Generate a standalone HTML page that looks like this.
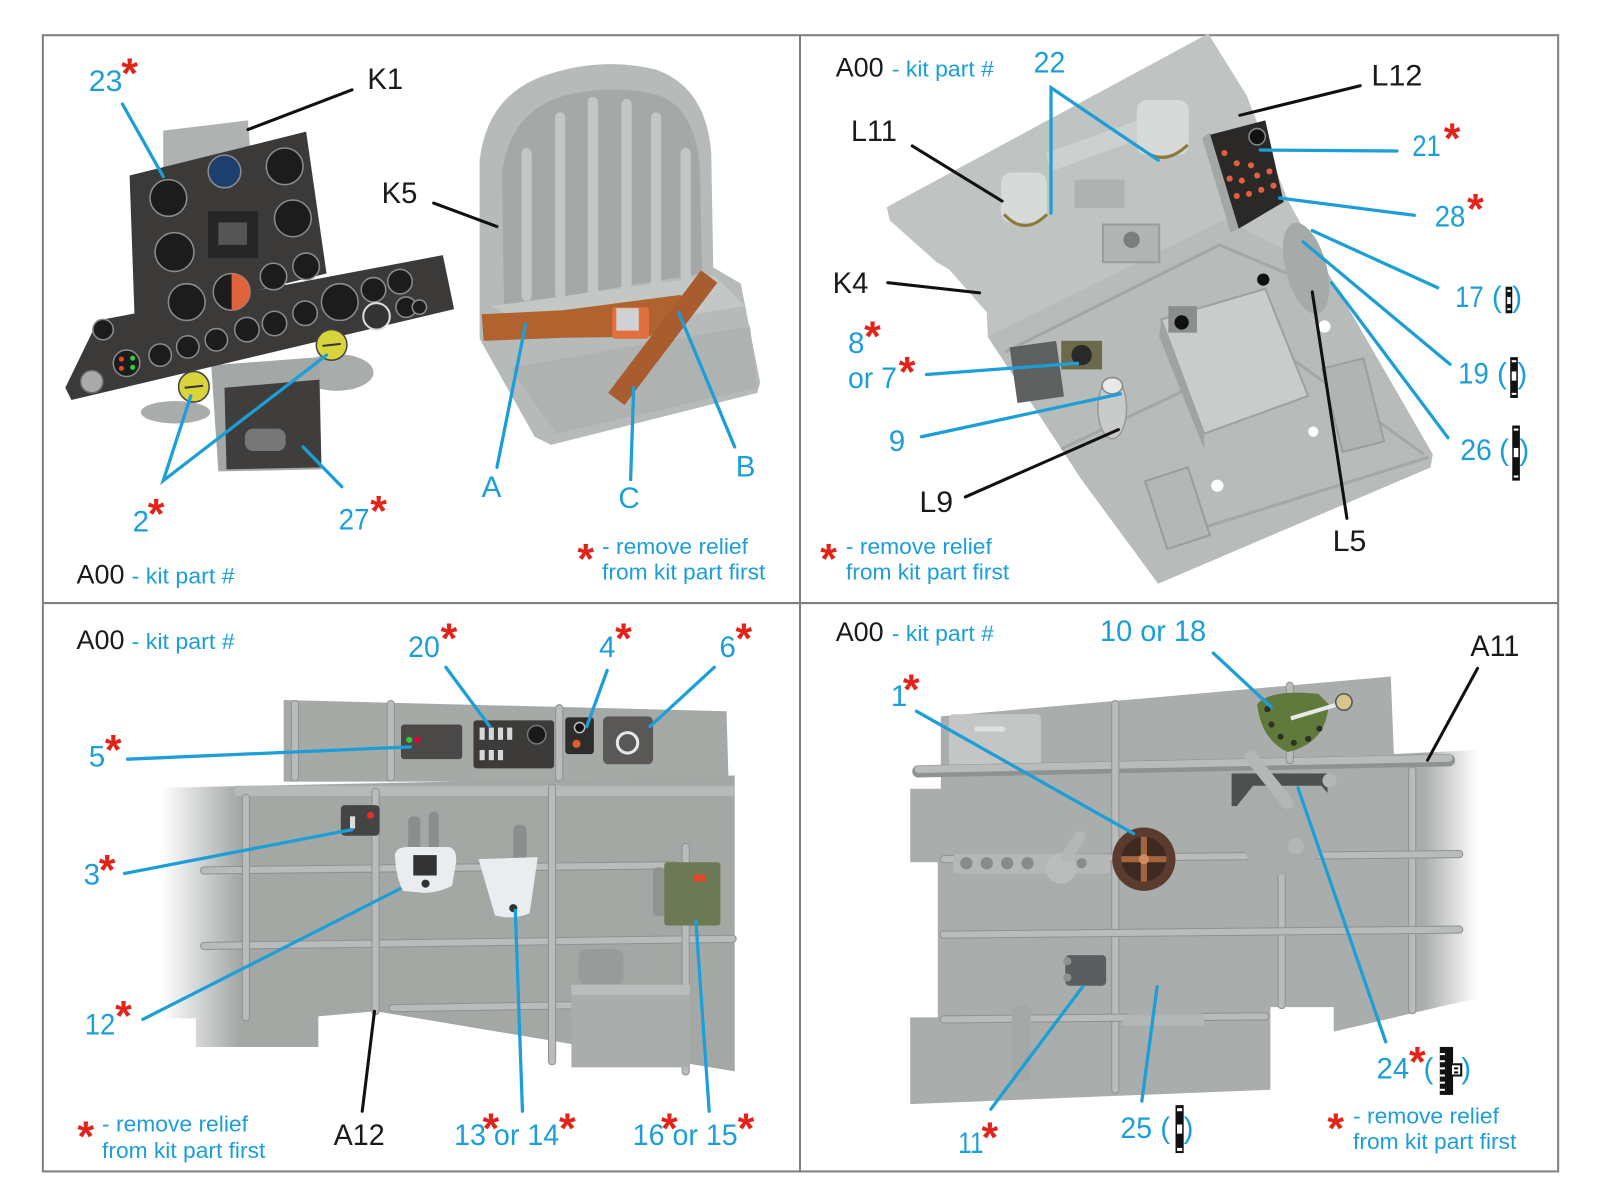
<!DOCTYPE html>
<html><head><meta charset="utf-8"><style>
html,body{margin:0;padding:0;background:#fff;}
svg{display:block;}
text{font-family:"Liberation Sans",Arial,sans-serif;}
.b{fill:#1c9ed8;font-size:29px}
.k{fill:#1a1a1a;font-size:29px}
.s{fill:#1c9ed8;font-size:22px}
.k2{fill:#1a1a1a;font-size:26px}
.a{fill:#e2231a;font-size:42px;font-weight:bold;text-anchor:middle}
.bl{stroke:#1c9ed8;stroke-width:3.2;stroke-linecap:round;fill:none}
.kl{stroke:#111;stroke-width:3;stroke-linecap:round;fill:none}
.g{fill:#1c1c1c;stroke:#8c8c8c;stroke-width:1.5}
.rib{stroke:#b9bcba;stroke-width:6;stroke-linecap:round}
.ribd{stroke:#8e9290;stroke-width:8;stroke-linecap:round}
</style></head><body>
<svg xmlns="http://www.w3.org/2000/svg" width="1600" height="1200" viewBox="0 0 1568 1176">
<defs>
<linearGradient id="f3" gradientUnits="userSpaceOnUse" x1="158" y1="0" x2="235" y2="0">
<stop offset="0" stop-color="#ffffff"/><stop offset="1" stop-color="#a3a8a5"/></linearGradient>
<linearGradient id="f4" gradientUnits="userSpaceOnUse" x1="1395" y1="0" x2="1448" y2="0">
<stop offset="0" stop-color="#a9adab"/><stop offset="1" stop-color="#ffffff"/></linearGradient>
</defs>
<rect width="1568" height="1176" fill="#fff"/>
<!-- frame -->
<rect x="42" y="34.5" width="1485" height="1113.5" fill="none" stroke="#808080" stroke-width="2"/>
<line x1="784" y1="34.5" x2="784" y2="1148" stroke="#808080" stroke-width="2"/>
<line x1="42" y1="591" x2="1527" y2="591" stroke="#808080" stroke-width="2"/>

<!-- ===== Q1 instrument panel ===== -->
<polygon points="160,128 243,118 248,185 160,195" fill="#aeb2b0"/>
<ellipse cx="172" cy="404" rx="34" ry="11" fill="#a8acaa"/>
<ellipse cx="330" cy="365" rx="36" ry="18" fill="#a8acaa"/>
<polygon points="207,358 313,350 315,460 214,462" fill="#a3a7a5"/>
<polygon points="220,380 313,372 315,458 222,460" fill="#3f3e3d"/>
<polygon points="127,172 300,129 320,268 132,314" fill="#3c3a39"/>
<polygon points="96,314 434,250 445,303 70,392 64,380" fill="#3c3a39"/>
<g>
<circle class="g" cx="165" cy="194" r="18"/>
<circle cx="220" cy="168" r="16" fill="#1c3f6e" stroke="#8c8c8c" stroke-width="1.5"/>
<circle class="g" cx="279" cy="163" r="18"/>
<circle class="g" cx="287" cy="214" r="18"/>
<circle class="g" cx="171" cy="247" r="19"/>
<rect x="204" y="207" width="49" height="46" fill="#262626"/>
<rect x="214" y="218" width="28" height="22" fill="#555"/>
<circle class="g" cx="227" cy="286" r="18"/>
<path d="M227,268 A18,18 0 0 1 227,304 Z" fill="#e0633c"/>
<circle class="g" cx="268" cy="271" r="13"/>
<circle class="g" cx="300" cy="261" r="13"/>
<circle class="g" cx="183" cy="296" r="18"/>
<circle class="g" cx="333" cy="296" r="18"/>
<circle class="g" cx="366" cy="284" r="12"/>
<circle class="g" cx="392" cy="276" r="12"/>
<circle class="g" cx="242" cy="323" r="12"/>
<circle class="g" cx="269" cy="317" r="12"/>
<circle class="g" cx="299" cy="307" r="12"/>
<circle cx="369" cy="310" r="13" fill="#333" stroke="#ddd" stroke-width="2"/>
<circle class="g" cx="398" cy="301" r="10"/>
<circle class="g" cx="212" cy="333" r="11"/>
<circle class="g" cx="184" cy="340" r="11"/>
<circle class="g" cx="157" cy="348" r="11"/>
<circle class="g" cx="101" cy="323" r="10"/>
<circle class="g" cx="124" cy="356" r="13"/>
<circle cx="119" cy="352" r="2.5" fill="#e04a2a"/><circle cx="130" cy="351" r="2.5" fill="#3c3"/><circle cx="119" cy="361" r="2.5" fill="#e04a2a"/><circle cx="130" cy="360" r="2.5" fill="#3c3"/>
<circle cx="90" cy="374" r="11" fill="#aaa" stroke="#666" stroke-width="1.5"/>
<circle class="g" cx="411" cy="301" r="7"/>
<rect x="240" y="420" width="40" height="22" rx="8" fill="#777"/>
</g>
<circle cx="190" cy="379" r="15" fill="#d9d43c" stroke="#444" stroke-width="1.5"/>
<line x1="181" y1="380" x2="199" y2="378" stroke="#333" stroke-width="2"/>
<circle cx="325" cy="338" r="15" fill="#d9d43c" stroke="#444" stroke-width="1.5"/>
<line x1="316" y1="339" x2="334" y2="337" stroke="#333" stroke-width="2"/>

<!-- ===== Q1 seat ===== -->
<path d="M470,157 Q478,90 540,72 Q592,56 642,68 Q692,85 697,150 L699,262 L726,278 L745,375 L742,385 L540,436 L524,428 L470,332 Z" fill="#b6bab8"/>
<path d="M494,300 L492,170 Q500,105 560,92 Q610,82 650,95 Q684,112 686,170 L688,268 Z" fill="#a4a8a6"/>
<g stroke="#c2c6c4" stroke-width="10" stroke-linecap="round">
<line x1="516" y1="150" x2="516" y2="290"/>
<line x1="549" y1="115" x2="549" y2="288"/>
<line x1="581" y1="100" x2="581" y2="286"/>
<line x1="614" y1="102" x2="614" y2="284"/>
<line x1="643" y1="115" x2="643" y2="282"/>
<line x1="672" y1="150" x2="672" y2="278"/>
</g>
<polygon points="482,300 700,270 730,300 540,330" fill="#c3c7c5"/>
<polygon points="500,360 735,320 742,380 545,425" fill="#aeb2b0"/>
<polygon points="472,308 552,304 667,289 674,306 636,330 553,331 474,334" fill="#b0622f"/>
<rect x="600" y="301" width="36" height="31" rx="3" fill="#e2703e"/>
<rect x="604" y="302" width="22" height="22" fill="#cfd2d3"/>
<polygon points="703,277 687,265 596,385 612,397" fill="#a95d2e"/>

<!-- Q1 lines -->
<line class="bl" x1="120" y1="102" x2="160" y2="173"/>
<line class="kl" x1="345" y1="88" x2="243" y2="127"/>
<line class="kl" x1="425" y1="199" x2="487" y2="222"/>
<polyline class="bl" points="187,388 160,471 320,348"/>
<line class="bl" x1="335" y1="477" x2="297" y2="438"/>
<line class="bl" x1="487" y1="458" x2="515" y2="318"/>
<line class="bl" x1="618" y1="470" x2="621" y2="380"/>
<line class="bl" x1="720" y1="438" x2="665" y2="306"/>

<!-- Q1 text -->
<text class="b" x="87" y="89" textLength="33" lengthAdjust="spacingAndGlyphs">23</text>
<text class="a" x="127" y="86">*</text>
<text class="k" x="360" y="87" textLength="35" lengthAdjust="spacingAndGlyphs">K1</text>
<text class="k" x="374" y="199" textLength="35" lengthAdjust="spacingAndGlyphs">K5</text>
<text class="b" x="130" y="521">2</text>
<text class="a" x="153" y="518">*</text>
<text class="b" x="332" y="519" textLength="30" lengthAdjust="spacingAndGlyphs">27</text>
<text class="a" x="371" y="515">*</text>
<text class="b" x="472" y="487">A</text>
<text class="b" x="606" y="498">C</text>
<text class="b" x="721" y="467">B</text>
<text class="a" x="574" y="562">*</text>
<text class="s" x="590" y="543" textLength="143" lengthAdjust="spacingAndGlyphs">- remove relief</text>
<text class="s" x="590" y="568" textLength="160" lengthAdjust="spacingAndGlyphs">from kit part first</text>
<text class="k2" x="75" y="572" textLength="47" lengthAdjust="spacingAndGlyphs">A00</text>
<text class="s" x="129" y="572" textLength="101" lengthAdjust="spacingAndGlyphs">- kit part #</text>

<!-- ===== Q2 plate ===== -->
<polygon points="869,203 1184,33 1222,94 1228,110 1262,196 1300,265 1404,445 1402,458 1135,572 1060,470 968,330 967,306 930,264 918,257 872,216" fill="#bfc3c1"/>
<polygon points="968,330 1200,215 1300,265 1404,445 1402,458 1135,572 1060,470" fill="#b7bbb9"/>
<g stroke="#a3a7a5" stroke-width="3" fill="none">
<polyline points="985,345 1195,240 1290,280"/>
<polyline points="1040,440 1250,340 1395,445"/>
<line x1="1170" y1="520" x2="1400" y2="448"/>
</g>
<rect x="993" y="337" width="46" height="55" fill="#5e615f" transform="rotate(-8 1016 364)"/>
<rect x="1040" y="334" width="40" height="28" fill="#6b6a4a"/>
<circle cx="1060" cy="348" r="10" fill="#2a2a2a"/>
<rect x="1081" y="220" width="55" height="37" fill="#b0b4b2" stroke="#999d9b" stroke-width="2"/>
<circle cx="1109" cy="235" r="8" fill="#7a7e7c"/>
<polygon points="1138,313 1240,283 1282,388 1180,425" fill="#c9cccb" stroke="#9da19f" stroke-width="2"/>
<polygon points="1138,313 1180,425 1180,440 1136,330" fill="#9fa3a1"/>
<rect x="1145" y="300" width="28" height="26" fill="#8a8e8c"/>
<circle cx="1158" cy="316" r="7" fill="#111"/>
<circle cx="1238" cy="274" r="6" fill="#111"/>
<circle cx="1287" cy="423" r="5" fill="#fff"/>
<circle cx="1193" cy="476" r="6" fill="#fff"/>
<circle cx="1298" cy="320" r="6" fill="#fff"/>
<ellipse cx="1280" cy="263" rx="20" ry="46" fill="#a6aaa8" transform="rotate(-15 1280 263)"/>
<rect x="1305" y="355" width="42" height="84" fill="#b0b4b2" stroke="#9a9e9c" stroke-width="2" transform="rotate(-14 1326 397)"/>
<rect x="1132" y="463" width="44" height="70" fill="#b3b7b5" stroke="#999d9b" stroke-width="2" transform="rotate(-18 1154 498)"/>
<ellipse cx="1090" cy="400" rx="14" ry="30" fill="#c8cbca" stroke="#999" stroke-width="1.5"/>
<ellipse cx="1090" cy="378" rx="10" ry="8" fill="#e8e8e8" stroke="#888" stroke-width="1.5"/>
<!-- belt mounts -->
<polygon points="1025,150 1115,118 1120,135 1030,168" fill="#ccd0ce"/>
<rect x="1053" y="176" width="49" height="28" fill="#aeb2b0"/>
<rect x="981" y="169" width="45" height="49" rx="10" fill="#d7dad8"/>
<path d="M984,210 Q1004,232 1026,210" stroke="#8a7a3a" stroke-width="3" fill="none"/>
<rect x="1114" y="98" width="51" height="54" rx="10" fill="#d7dad8"/>
<path d="M1118,145 Q1140,165 1164,142" stroke="#8a7a3a" stroke-width="3" fill="none"/>
<!-- L12 box -->
<polygon points="1178,135 1186,130 1214,224 1206,228" fill="#a3a7a5"/>
<polygon points="1186,132 1240,118 1258,198 1214,224" fill="#2b2928"/>
<g fill="#e06040">
<circle cx="1200" cy="150" r="3"/><circle cx="1212" cy="160" r="3"/><circle cx="1226" cy="162" r="3"/>
<circle cx="1205" cy="175" r="3"/><circle cx="1217" cy="177" r="3"/><circle cx="1232" cy="172" r="3"/><circle cx="1244" cy="168" r="3"/>
<circle cx="1212" cy="192" r="3"/><circle cx="1224" cy="190" r="3"/><circle cx="1236" cy="186" r="3"/><circle cx="1248" cy="182" r="3"/>
</g>
<circle cx="1232" cy="134" r="8" fill="#111" stroke="#888" stroke-width="1.5"/>

<!-- Q2 lines -->
<polyline class="bl" points="1030,209 1030,86 1135,157"/>
<line class="kl" x1="1333" y1="84" x2="1215" y2="113"/>
<line class="kl" x1="894" y1="143" x2="982" y2="197"/>
<line class="bl" x1="1369" y1="148" x2="1235" y2="147"/>
<line class="bl" x1="1386" y1="211" x2="1254" y2="194"/>
<line class="kl" x1="870" y1="277" x2="960" y2="287"/>
<line class="bl" x1="1409" y1="282" x2="1286" y2="226"/>
<line class="bl" x1="1421" y1="357" x2="1277" y2="237"/>
<line class="bl" x1="1419" y1="429" x2="1305" y2="277"/>
<line class="kl" x1="1320" y1="508" x2="1286" y2="286"/>
<line class="bl" x1="908" y1="367" x2="1056" y2="356"/>
<line class="bl" x1="903" y1="428" x2="1098" y2="386"/>
<line class="kl" x1="946" y1="487" x2="1096" y2="421"/>

<!-- Q2 text -->
<text class="k2" x="819" y="75" textLength="47" lengthAdjust="spacingAndGlyphs">A00</text>
<text class="s" x="874" y="75" textLength="100" lengthAdjust="spacingAndGlyphs">- kit part #</text>
<text class="b" x="1013" y="71" textLength="31" lengthAdjust="spacingAndGlyphs">22</text>
<text class="k" x="1344" y="84" textLength="50" lengthAdjust="spacingAndGlyphs">L12</text>
<text class="k" x="834" y="138" textLength="45" lengthAdjust="spacingAndGlyphs">L11</text>
<text class="b" x="1384" y="153" textLength="28" lengthAdjust="spacingAndGlyphs">21</text>
<text class="a" x="1423" y="150">*</text>
<text class="b" x="1406" y="222" textLength="30" lengthAdjust="spacingAndGlyphs">28</text>
<text class="a" x="1446" y="219">*</text>
<text class="k" x="816" y="287" textLength="35" lengthAdjust="spacingAndGlyphs">K4</text>
<text class="b" x="1426" y="301" textLength="28" lengthAdjust="spacingAndGlyphs">17</text>
<text class="b" x="1462" y="301">(</text>
<rect x="1475.5" y="281" width="6.5" height="26" fill="#111"/>
<rect x="1477" y="284" width="3.5" height="2" fill="#fff"/><rect x="1477" y="291" width="3.5" height="7" fill="#fff"/><rect x="1477" y="302" width="3.5" height="2" fill="#fff"/>
<text class="b" x="1482" y="301">)</text>
<text class="b" x="831" y="346">8</text>
<text class="a" x="855" y="344">*</text>
<text class="b" x="831" y="380" textLength="48" lengthAdjust="spacingAndGlyphs">or 7</text>
<text class="a" x="889" y="379">*</text>
<text class="b" x="1429" y="376" textLength="30" lengthAdjust="spacingAndGlyphs">19</text>
<text class="b" x="1467" y="376">(</text>
<rect x="1480" y="350" width="7.5" height="40" fill="#111"/>
<rect x="1481.5" y="353" width="4.5" height="2" fill="#fff"/><rect x="1481.5" y="364" width="4.5" height="9" fill="#fff"/><rect x="1481.5" y="385" width="4.5" height="2" fill="#fff"/>
<text class="b" x="1487" y="376">)</text>
<text class="b" x="871" y="442">9</text>
<text class="b" x="1431" y="451" textLength="31" lengthAdjust="spacingAndGlyphs">26</text>
<text class="b" x="1469" y="451">(</text>
<rect x="1482" y="417" width="7.5" height="54" fill="#111"/>
<rect x="1483.5" y="420" width="4.5" height="2" fill="#fff"/><rect x="1483.5" y="439" width="4.5" height="9" fill="#fff"/><rect x="1483.5" y="466" width="4.5" height="2" fill="#fff"/>
<text class="b" x="1489" y="451">)</text>
<text class="k" x="901" y="502" textLength="33" lengthAdjust="spacingAndGlyphs">L9</text>
<text class="k" x="1306" y="540" textLength="33" lengthAdjust="spacingAndGlyphs">L5</text>
<text class="a" x="812" y="562">*</text>
<text class="s" x="829" y="543" textLength="143" lengthAdjust="spacingAndGlyphs">- remove relief</text>
<text class="s" x="829" y="568" textLength="160" lengthAdjust="spacingAndGlyphs">from kit part first</text>

<!-- ===== Q3 panel A12 ===== -->
<polygon points="278,686 712,697 714,766 278,766" fill="#a5aaa7"/>
<polygon points="160,772 720,760 720,1050 368,991 312,996 312,1026 192,1026 192,998 160,998" fill="url(#f3)"/>
<rect x="230" y="770" width="490" height="10" fill="#b6bab8"/>
<g>
<line class="ribd" x1="289" y1="690" x2="289" y2="762"/>
<line class="rib" x1="289" y1="690" x2="289" y2="762"/>
<line class="ribd" x1="383" y1="690" x2="383" y2="762"/>
<line class="rib" x1="383" y1="690" x2="383" y2="762"/>
<line class="ribd" x1="548" y1="694" x2="548" y2="762"/>
<line class="rib" x1="548" y1="694" x2="548" y2="762"/>
<line class="ribd" x1="200" y1="853" x2="662" y2="848"/>
<line class="rib" x1="200" y1="853" x2="662" y2="848"/>
<line class="ribd" x1="200" y1="927" x2="718" y2="920"/>
<line class="rib" x1="200" y1="927" x2="718" y2="920"/>
<line class="ribd" x1="385" y1="988" x2="570" y2="985"/>
<line class="rib" x1="385" y1="988" x2="570" y2="985"/>
<line class="ribd" x1="241" y1="782" x2="241" y2="997"/>
<line class="rib" x1="241" y1="782" x2="241" y2="997"/>
<line class="ribd" x1="368" y1="776" x2="368" y2="991"/>
<line class="rib" x1="368" y1="776" x2="368" y2="991"/>
<line class="ribd" x1="541" y1="772" x2="541" y2="1040"/>
<line class="rib" x1="541" y1="772" x2="541" y2="1040"/>
<line class="ribd" x1="672" y1="830" x2="672" y2="1050"/>
<line class="rib" x1="672" y1="830" x2="672" y2="1050"/>
</g>
<rect x="393" y="710" width="60" height="34" rx="3" fill="#4a4948"/>
<circle cx="401" cy="725" r="3" fill="#3c3"/><circle cx="409" cy="725" r="3" fill="#e03"/>
<rect x="464" y="706" width="79" height="47" rx="3" fill="#3c3b3a"/>
<g fill="#d8d8d8"><rect x="470" y="713" width="5" height="12"/><rect x="479" y="713" width="5" height="12"/><rect x="488" y="713" width="5" height="12"/><rect x="497" y="713" width="5" height="12"/><rect x="470" y="735" width="5" height="10"/><rect x="479" y="735" width="5" height="10"/><rect x="488" y="735" width="5" height="10"/></g>
<circle cx="526" cy="720" r="9" fill="#1a1a1a" stroke="#777" stroke-width="1.5"/>
<rect x="554" y="703" width="28" height="36" rx="3" fill="#2e2d2c"/>
<circle cx="568" cy="713" r="5" fill="#111" stroke="#bbb" stroke-width="1.5"/>
<circle cx="565" cy="729" r="4" fill="#e55a2a"/>
<rect x="591" y="702" width="49" height="47" rx="5" fill="#595857"/>
<circle cx="615" cy="728" r="10" fill="none" stroke="#e6e6e6" stroke-width="3"/>
<rect x="334" y="789" width="38" height="30" rx="4" fill="#444"/>
<circle cx="363" cy="799" r="3.5" fill="#e0302a"/><rect x="343" y="800" width="5" height="12" fill="#ddd"/>
<rect x="400" y="800" width="12" height="35" rx="5" fill="#8a8e8c"/>
<rect x="420" y="795" width="10" height="38" rx="5" fill="#8a8e8c"/>
<path d="M387,838 Q388,830 400,830 L440,830 Q448,832 447,845 L443,868 Q430,875 415,875 L395,873 Q388,860 387,838 Z" fill="#e9edf0"/>
<rect x="405" y="838" width="23" height="20" fill="#333"/>
<circle cx="417" cy="866" r="4" fill="#333"/>
<rect x="503" y="808" width="13" height="38" rx="6" fill="#8a8e8c"/>
<path d="M469,842 L527,840 L519,895 Q503,902 485,897 Z" fill="#e9edf0"/>
<circle cx="503" cy="890" r="4" fill="#333"/>
<rect x="640" y="850" width="12" height="48" rx="4" fill="#8f9391"/>
<rect x="651" y="845" width="55" height="62" rx="3" fill="#6b7a55"/>
<rect x="680" y="857" width="12" height="7" fill="#e04a2a"/>
<rect x="567" y="930" width="44" height="35" rx="8" fill="#979b99"/>
<rect x="611" y="940" width="22" height="15" fill="#a2a6a4"/>
<rect x="560" y="965" width="116" height="81" fill="#a9adab"/>
<rect x="560" y="965" width="116" height="10" fill="#b9bdbb"/>

<!-- Q3 lines -->
<line class="bl" x1="437" y1="654" x2="480" y2="712"/>
<line class="bl" x1="595" y1="657" x2="575" y2="712"/>
<line class="bl" x1="700" y1="654" x2="637" y2="712"/>
<line class="bl" x1="125" y1="744" x2="402" y2="732"/>
<line class="bl" x1="122" y1="856" x2="345" y2="813"/>
<line class="bl" x1="140" y1="999" x2="392" y2="871"/>
<line class="kl" x1="355" y1="1089" x2="367" y2="991"/>
<line class="bl" x1="512" y1="1089" x2="505" y2="892"/>
<line class="bl" x1="695" y1="1089" x2="682" y2="903"/>

<!-- Q3 text -->
<text class="k2" x="75" y="636" textLength="47" lengthAdjust="spacingAndGlyphs">A00</text>
<text class="s" x="129" y="636" textLength="101" lengthAdjust="spacingAndGlyphs">- kit part #</text>
<text class="b" x="400" y="644" textLength="31" lengthAdjust="spacingAndGlyphs">20</text>
<text class="a" x="440" y="640">*</text>
<text class="b" x="587" y="644">4</text>
<text class="a" x="611" y="640">*</text>
<text class="b" x="705" y="644">6</text>
<text class="a" x="729" y="640">*</text>
<text class="b" x="87" y="751">5</text>
<text class="a" x="111" y="749">*</text>
<text class="b" x="82" y="867">3</text>
<text class="a" x="105" y="867">*</text>
<text class="b" x="83" y="1014" textLength="30" lengthAdjust="spacingAndGlyphs">12</text>
<text class="a" x="121" y="1010">*</text>
<text class="a" x="84" y="1128">*</text>
<text class="s" x="100" y="1109" textLength="143" lengthAdjust="spacingAndGlyphs">- remove relief</text>
<text class="s" x="100" y="1135" textLength="160" lengthAdjust="spacingAndGlyphs">from kit part first</text>
<text class="k" x="327" y="1122" textLength="50" lengthAdjust="spacingAndGlyphs">A12</text>
<text class="b" x="445" y="1122" textLength="103" lengthAdjust="spacingAndGlyphs">13 or 14</text>
<text class="a" x="481" y="1120">*</text>
<text class="a" x="556" y="1120">*</text>
<text class="b" x="620" y="1122" textLength="103" lengthAdjust="spacingAndGlyphs">16 or 15</text>
<text class="a" x="656" y="1120">*</text>
<text class="a" x="731" y="1120">*</text>

<!-- ===== Q4 panel A11 ===== -->
<polygon points="922,702 1363,663 1366,739 1448,735 1448,978 1307,1011 1307,987 1245,987 1245,1068 892,1082 892,997 919,997 919,845 892,845 892,773 922,773" fill="url(#f4)"/>
<rect x="930" y="700" width="90" height="52" rx="4" fill="#c3c6c4"/>
<rect x="955" y="712" width="30" height="5" rx="2" fill="#dfe1e0"/>
<g>
<line class="ribd" x1="900" y1="756" x2="1420" y2="745" style="stroke-width:12"/>
<line class="rib" x1="900" y1="754" x2="1420" y2="743" style="stroke-width:7"/>
<line class="ribd" x1="1093" y1="690" x2="1093" y2="1068"/>
<line class="rib" x1="1093" y1="690" x2="1093" y2="1068"/>
<line class="ribd" x1="1264" y1="672" x2="1264" y2="745"/>
<line class="rib" x1="1264" y1="672" x2="1264" y2="745"/>
<line class="ribd" x1="1256" y1="773" x2="1256" y2="985"/>
<line class="rib" x1="1256" y1="773" x2="1256" y2="985"/>
<line class="ribd" x1="1384" y1="755" x2="1384" y2="990"/>
<line class="rib" x1="1384" y1="755" x2="1384" y2="990"/>
<line class="ribd" x1="925" y1="842" x2="1430" y2="837"/>
<line class="rib" x1="925" y1="842" x2="1430" y2="837"/>
<line class="ribd" x1="925" y1="916" x2="1430" y2="911"/>
<line class="rib" x1="925" y1="916" x2="1430" y2="911"/>
<line class="ribd" x1="925" y1="999" x2="1240" y2="996"/>
<line class="rib" x1="925" y1="999" x2="1240" y2="996"/>
</g>
<path d="M1232,690 Q1245,675 1292,680 L1302,690 Q1300,728 1262,737 Q1236,725 1232,690 Z" fill="#5f7a3a"/>
<g fill="#2c3320"><circle cx="1242" cy="695" r="3"/><circle cx="1246" cy="710" r="3"/><circle cx="1255" cy="722" r="3"/><circle cx="1268" cy="728" r="3"/><circle cx="1282" cy="724" r="3"/><circle cx="1293" cy="714" r="3"/></g>
<line x1="1265" y1="704" x2="1312" y2="690" stroke="#e8e8e8" stroke-width="4"/>
<circle cx="1317" cy="688" r="8" fill="#d9c48a" stroke="#555" stroke-width="1.5"/>
<rect x="1207" y="758" width="94" height="32" fill="#4e4f4f"/>
<path d="M1212,790 L1228,770 L1295,770 L1312,790 L1300,830 Q1280,860 1240,857 L1225,845 Q1210,820 1212,790 Z" fill="#a8acaa"/>
<line x1="1226" y1="742" x2="1262" y2="787" stroke="#b3b7b5" stroke-width="12" stroke-linecap="round"/>
<circle cx="1270" cy="829" r="8" fill="#b3b7b5"/>
<circle cx="1303" cy="765" r="7" fill="#b3b7b5"/>
<rect x="934" y="837" width="154" height="19" rx="3" fill="#b5b8b6"/>
<g fill="#878b89"><circle cx="947" cy="846" r="6"/><circle cx="967" cy="846" r="6"/><circle cx="987" cy="846" r="6"/><circle cx="1007" cy="846" r="6"/><circle cx="1060" cy="846" r="5"/></g>
<circle cx="1040" cy="851" r="15" fill="#b9bdbb"/>
<line x1="1045" y1="840" x2="1058" y2="820" stroke="#b3b7b5" stroke-width="11" stroke-linecap="round"/>
<circle cx="1121" cy="842" r="31" fill="#5b3b2e"/>
<circle cx="1121" cy="842" r="22" fill="#3f2a21"/>
<line x1="1099" y1="842" x2="1143" y2="842" stroke="#a4643d" stroke-width="6"/>
<line x1="1121" y1="820" x2="1121" y2="864" stroke="#a4643d" stroke-width="6"/>
<circle cx="1121" cy="842" r="5" fill="#d08c5e"/>
<rect x="1044" y="936" width="40" height="30" rx="4" fill="#5c5d60"/>
<circle cx="1046" cy="942" r="4" fill="#8e9290"/><circle cx="1046" cy="958" r="4" fill="#8e9290"/>
<path d="M1106,997 A36,34 0 0 1 1178,997 Z" fill="#a9adab"/>
<line x1="1160" y1="995" x2="1205" y2="945" stroke="#a9adab" stroke-width="12" stroke-linecap="round"/>
<rect x="1100" y="995" width="80" height="10" fill="#b3b7b5"/>
<path d="M1125,1005 L1160,1005 L1150,1060 L1135,1060 Z" fill="#a9adab"/>
<rect x="992" y="985" width="18" height="75" rx="5" fill="#a4a8a6"/>

<!-- Q4 lines -->
<line class="bl" x1="1189" y1="640" x2="1246" y2="693"/>
<line class="kl" x1="1448" y1="655" x2="1399" y2="745"/>
<line class="bl" x1="898" y1="697" x2="1111" y2="817"/>
<line class="bl" x1="1358" y1="1021" x2="1272" y2="772"/>
<line class="bl" x1="971" y1="1087" x2="1061" y2="967"/>
<line class="bl" x1="1119" y1="1079" x2="1134" y2="967"/>

<!-- Q4 text -->
<text class="k2" x="819" y="628" textLength="47" lengthAdjust="spacingAndGlyphs">A00</text>
<text class="s" x="874" y="628" textLength="100" lengthAdjust="spacingAndGlyphs">- kit part #</text>
<text class="b" x="1078" y="628" textLength="104" lengthAdjust="spacingAndGlyphs">10 or 18</text>
<text class="k" x="1441" y="643" textLength="48" lengthAdjust="spacingAndGlyphs">A11</text>
<text class="b" x="873" y="692">1</text>
<text class="a" x="893" y="690">*</text>
<text class="b" x="1349" y="1057" textLength="32" lengthAdjust="spacingAndGlyphs">24</text>
<text class="a" x="1389" y="1055">*</text>
<text class="b" x="1395" y="1057">(</text>
<rect x="1411" y="1026" width="13" height="47" fill="#111"/>
<g fill="#fff"><rect x="1411" y="1032" width="5" height="2"/><rect x="1411" y="1039" width="5" height="2"/><rect x="1411" y="1046" width="5" height="2"/><rect x="1411" y="1053" width="5" height="2"/><rect x="1411" y="1060" width="5" height="2"/><rect x="1411" y="1067" width="5" height="2"/></g>
<rect x="1422" y="1043" width="10" height="11" fill="#fff" stroke="#111" stroke-width="2"/>
<rect x="1425" y="1046" width="4" height="2" fill="#111"/><rect x="1425" y="1050" width="4" height="2" fill="#111"/>
<text class="b" x="1432" y="1057">)</text>
<text class="a" x="1309" y="1120">*</text>
<text class="s" x="1326" y="1101" textLength="143" lengthAdjust="spacingAndGlyphs">- remove relief</text>
<text class="s" x="1326" y="1126" textLength="160" lengthAdjust="spacingAndGlyphs">from kit part first</text>
<text class="b" x="1098" y="1115" textLength="31" lengthAdjust="spacingAndGlyphs">25</text>
<text class="b" x="1137" y="1115">(</text>
<rect x="1152" y="1083" width="8" height="47" fill="#111"/>
<rect x="1153.5" y="1086" width="5" height="3" fill="#fff"/><rect x="1153.5" y="1102" width="5" height="9" fill="#fff"/><rect x="1153.5" y="1125" width="5" height="3" fill="#fff"/>
<text class="b" x="1160" y="1115">)</text>
<text class="b" x="939" y="1130" textLength="25" lengthAdjust="spacingAndGlyphs">11</text>
<text class="a" x="970" y="1129">*</text>
</svg>
</body></html>
